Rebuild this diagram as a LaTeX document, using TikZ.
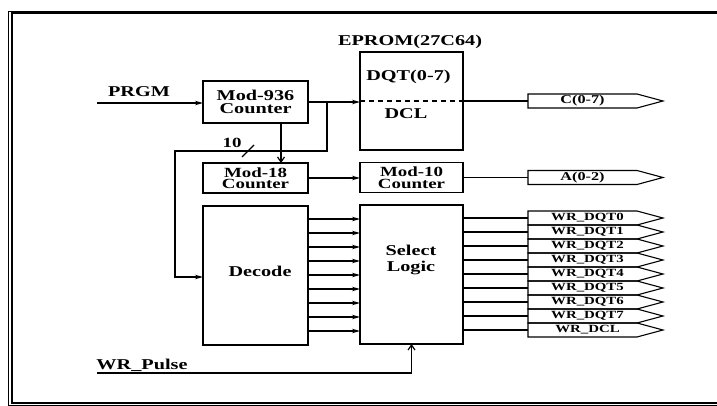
\documentclass[tikz,border=0pt]{standalone}
\usepackage{fontspec}
\setmainfont{Liberation Serif}[FakeStretch=1.35]
\usetikzlibrary{arrows.meta,calc}
\begin{document}
\begin{tikzpicture}[x=1pt,y=-1pt,
 blk/.style={draw,line width=1.2pt,inner sep=0pt,outer sep=0pt,align=center,font=\fontsize{15}{12.5}\selectfont\bfseries},
 lbl/.style={inner sep=0pt,align=center,font=\fontsize{15}{12}\selectfont\bfseries},
 sig/.style={inner sep=0pt,outer sep=0pt,minimum width=109pt,minimum height=14pt,font=\fontsize{11}{11}\selectfont\bfseries},
 wire/.style={line width=1.2pt},
 arr/.style={wire,-{Stealth[length=8pt,width=4.5pt]}},
 oarr/.style={wire,-{Straight Barb[length=5pt,width=7pt]}},
 pent/.style={line width=1.1pt}]
\useasboundingbox (0,0) rectangle (717,406);
% frame
\draw[line width=0.8pt] (8,11) rectangle (730,405);
\draw[line width=1.2pt] (12,13) rectangle (730,403);
% blocks
\node[blk,minimum width=105pt,minimum height=42pt] (m936) at (255.5,102) {Mod-936\\Counter};
\node[blk,minimum width=103pt,minimum height=98pt] (ep) at (411.5,101) {};
\node[lbl] (eplbl) at (410,42) {EPROM(27C64)};
\node[lbl] (dqt) at (408.5,77) {DQT(0-7)};
\node[lbl] (dcl) at (406,114) {DCL};
\node[blk,minimum width=105pt,minimum height=30pt,font=\fontsize{14}{11.5}\selectfont\bfseries] (m18) at (255.5,178) {Mod-18\\Counter};
\node[blk,minimum width=103pt,minimum height=30pt,font=\fontsize{14}{11.5}\selectfont\bfseries] (m10) at (411.5,177.5) {Mod-10\\Counter};
\node[blk,minimum width=105pt,minimum height=139pt] (dec) at (255.5,275.5) {};
\node[lbl] (dect) at (260,271) {Decode};
\node[blk,minimum width=103pt,minimum height=139pt] (sel) at (411.5,274.5) {};
\node[lbl,font=\fontsize{15}{16}\selectfont\bfseries] (selt) at (411,260) {Select\\Logic};
% input labels
\node[lbl,anchor=base] (prgm) at (139,97) {PRGM};
\node[lbl,anchor=base] (wrp) at (142,369) {WR\_Pulse};
\node[lbl,font=\fontsize{14}{14}\selectfont\bfseries] (ten) at (232,143) {10};
% output pentagons
\node[sig,font=\fontsize{12}{12}\selectfont\bfseries] (c) at (582.5,101) {C(0-7)};
\draw[pent] (c.north west) -- (c.north east) -- ($(c.east)+(26,0)$) -- (c.south east) -- (c.south west) -- cycle;
\node[sig,font=\fontsize{12}{12}\selectfont\bfseries] (a) at (582.5,177.5) {A(0-2)};
\draw[pent] (a.north west) -- (a.north east) -- ($(a.east)+(26,0)$) -- (a.south east) -- (a.south west) -- cycle;
\foreach \i/\t in {0/WR\_DQT0,1/WR\_DQT1,2/WR\_DQT2,3/WR\_DQT3,4/WR\_DQT4,5/WR\_DQT5,6/WR\_DQT6,7/WR\_DQT7,8/WR\_DCL}{
  \pgfmathsetmacro\yy{218+14*\i}
  \node[sig] (o\i) at (582.5,\yy) {\hspace*{10pt}\t};
  \draw[pent] (o\i.north west) -- (o\i.north east) -- ($(o\i.east)+(26,0)$) -- (o\i.south east) -- (o\i.south west) -- cycle;
  \draw[wire] (sel.east |- o\i.west) -- (o\i.west);
  \pgfmathsetmacro\zz{219+14*\i}
  \draw[arr] (dec.east |- 0,\zz) -- (sel.west |- 0,\zz);
}
% connectors
\coordinate (pg) at (97,103);
\draw[arr] (pg) -- (pg -| m936.west);
\draw[arr] (m936.east) -- (m936.east -| ep.west);
\draw[wire,dash pattern=on 5pt off 4pt] (ep.west) -- (ep.east);
\draw[wire] (ep.east) -- (c.west);
\coordinate (j1) at (327,102);
\coordinate (j2) at (175,151);
\draw[arr] (j1) |- (j2) |- (dec.west |- 0,277);
\draw[wire] (242,157) -- (254,145);
\draw[oarr] (m936.south -| 281,0) -- (m18.north -| 281,0);
\draw[arr] (m18.east) -- (m18.east -| m10.west);
\draw[wire] (m10.east) -- (a.west);
\coordinate (wp) at (97,373);
\draw[oarr] (wp) -| (sel.south);
\end{tikzpicture}
\end{document}
